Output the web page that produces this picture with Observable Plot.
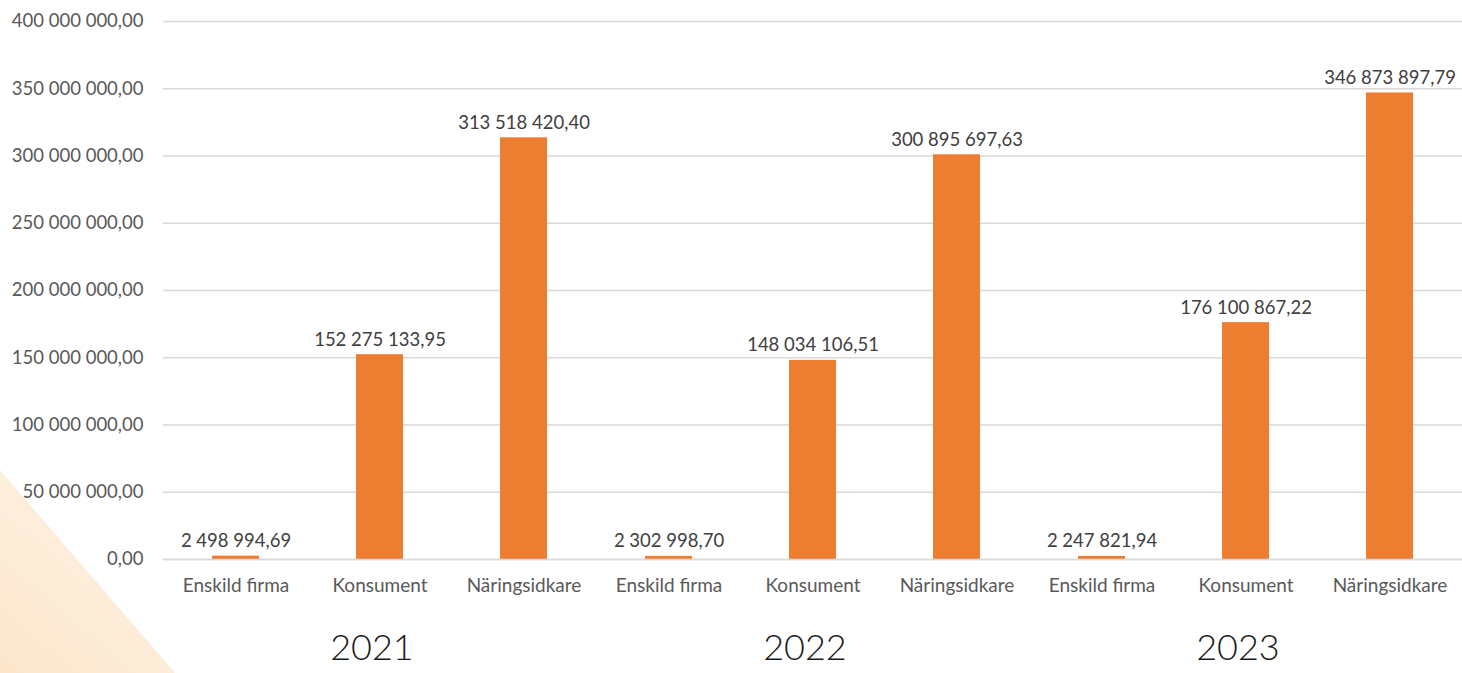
<!DOCTYPE html>
<html>
<head>
<meta charset="utf-8">
<script src="https://cdn.jsdelivr.net/npm/d3@7"></script>
<script src="https://cdn.jsdelivr.net/npm/@observablehq/plot@0.6"></script>
<style>
  html, body { margin: 0; padding: 0; background: #fff; }
  #wrap { position: relative; width: 1462px; height: 673px; overflow: hidden; }
  #deco { position: absolute; left: 0; top: 0; width: 1462px; height: 673px;
          clip-path: polygon(0 470px, 175px 673px, 0 673px);
          background: linear-gradient(221deg, rgba(255,246,236,0.2) 70%, rgba(251,224,190,0.8) 100%); }
  #chart { position: absolute; left: 0; top: 0; }
</style>
</head>
<body>
<div id="wrap"><div id="deco"></div><div id="chart"></div></div>
<script>
const years = ["2021", "2022", "2023"];
const categories = ["Enskild firma", "Konsument", "Näringsidkare"];
const values2021 = [2498994.69, 152275133.95, 313518420.40];
const values2022 = [2302998.70, 148034106.51, 300895697.63];
const values2023 = [2247821.94, 176100867.22, 346873897.79];
const yTicks = [0, 50e6, 100e6, 150e6, 200e6, 250e6, 300e6, 350e6, 400e6];

const seriesByYear = [values2021, values2022, values2023];
const data = years.flatMap((yr, i) => categories.map((c, j) => ({year: yr, category: c, value: seriesByYear[i][j]})));

const fmt = d3.formatLocale({decimal: ",", thousands: " ", grouping: [3]}).format(",.2f");
const font = "Lato, 'Open Sans', sans-serif";

const chart = Plot.plot({
  width: 1462,
  height: 673,
  marginLeft: 162,
  marginRight: 0,
  marginTop: 21,
  marginBottom: 114,
  style: {fontFamily: font, background: "transparent"},
  fx: {domain: years, padding: 0, label: null},
  x: {domain: categories, paddingInner: 0.675, paddingOuter: 0.3375, label: null},
  y: {domain: [0, 400e6], label: null},
  marks: [
    Plot.gridY(yTicks, {stroke: "#d9d9d9", strokeOpacity: 1, strokeWidth: 1.5}),
    Plot.axisY(yTicks, {tickSize: 0, tickPadding: 20, tickFormat: fmt, fontSize: 18.5, fill: "#595959", label: null}),
    Plot.barY(data, {fx: "year", x: "category", y: "value", fill: "#ED7D31"}),
    Plot.ruleY([0], {stroke: "#d9d9d9", strokeWidth: 1.5}),
    Plot.text(data, {fx: "year", x: "category", y: "value", text: d => fmt(d.value), dy: -9, lineAnchor: "bottom", fontSize: 18.5, fill: "#404040"}),
    Plot.axisX({tickSize: 0, tickPadding: 19, fontSize: 19, fill: "#595959", label: null}),
    Plot.axisFx({anchor: "bottom", tickSize: 0, tickPadding: 75, dx: -8, fontSize: 36, fontWeight: 300, fill: "#1a1a1a", label: null})
  ]
});
document.getElementById("chart").appendChild(chart);
</script>
</body>
</html>
